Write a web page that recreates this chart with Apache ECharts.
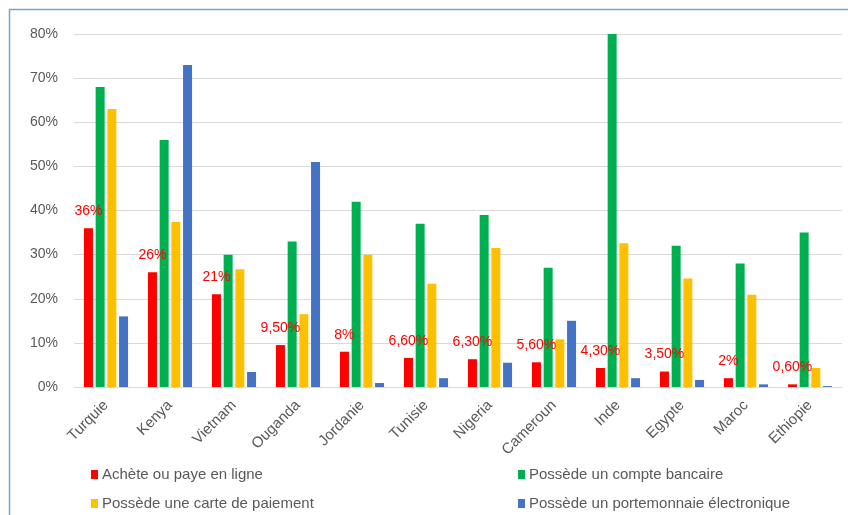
<!DOCTYPE html>
<html>
<head>
<meta charset="utf-8">
<script src="https://cdn.jsdelivr.net/npm/echarts@6/dist/echarts.min.js"></script>
<style>
  html, body { margin: 0; padding: 0; background: #fff; }
  #chart { width: 848px; height: 515px; }
</style>
</head>
<body>
<div id="chart"></div>
<script>
const pays = ['Turquie', 'Kenya', 'Vietnam', 'Ouganda', 'Jordanie', 'Tunisie', 'Nigeria', 'Cameroun', 'Inde', 'Egypte', 'Maroc', 'Ethiopie'];
const achete = [36, 26, 21, 9.5, 8, 6.6, 6.3, 5.6, 4.3, 3.5, 2, 0.6];
const compte = [68, 56, 30, 33, 42, 37, 39, 27, 80, 32, 28, 35];
const carte = [63, 37.4, 26.7, 16.5, 30, 23.4, 31.5, 10.8, 32.6, 24.6, 20.9, 4.3];
const portemonnaie = [16, 73, 3.4, 51, 0.9, 2, 5.5, 15, 2, 1.6, 0.6, 0.2];
const yTicks = [0, 10, 20, 30, 40, 50, 60, 70, 80];
const seriesNames = ['Achète ou paye en ligne', 'Possède un compte bancaire', 'Possède une carte de paiement', 'Possède un portemonnaie électronique'];

const font = '"Liberation Sans", Arial, sans-serif';
const grey = '#595959';

// format "à la française" : 36% ou 9,50%
function fmtPct(v) {
    if (Number.isInteger(v)) return v + '%';
    return v.toFixed(2).replace('.', ',') + '%';
}

// une légende par entrée, grille 2 x 2 comme dans Excel
function legendItem(name, left, top) {
    return {
        left: left, top: top, padding: 0,
        itemWidth: 7, itemHeight: 9, icon: 'rect',
        textStyle: {color: grey, fontSize: 15, fontFamily: font, padding: [0, 0, 0, -1]},
        data: [name]
    };
}

let chart = echarts.init(document.getElementById('chart'));
chart.setOption({
    animation: false,
    textStyle: {fontFamily: font},
    color: ['#ff0000', '#00b050', '#ffc000', '#4472c4'],
    graphic: [{
        type: 'rect',
        shape: {x: 9.5, y: 9.5, width: 900, height: 600},
        style: {fill: 'none', stroke: '#7aa3d0', lineWidth: 1.5}
    }],
    grid: {left: 74, right: 6, top: 34, bottom: 128},
    legend: [
        legendItem(seriesNames[0], 91, 467),
        legendItem(seriesNames[1], 518, 467),
        legendItem(seriesNames[2], 91, 496),
        legendItem(seriesNames[3], 518, 496)
    ],
    xAxis: {
        type: 'category',
        data: pays,
        axisTick: {show: false},
        axisLine: {lineStyle: {color: '#d9d9d9'}},
        axisLabel: {rotate: 45, color: grey, fontSize: 15, margin: 16, interval: 0}
    },
    yAxis: {
        type: 'value',
        min: yTicks[0],
        max: yTicks[yTicks.length - 1],
        interval: 10,
        axisLabel: {color: grey, fontSize: 14, margin: 16, formatter: '{value}%'},
        splitLine: {lineStyle: {color: '#d9d9d9'}}
    },
    series: [
        {
            name: seriesNames[0], type: 'bar', data: achete,
            barWidth: 9, barGap: '30%',
            label: {
                show: true, position: 'top', distance: 10,
                color: '#ff0000', fontSize: 14,
                formatter: p => fmtPct(p.value)
            }
        },
        {name: seriesNames[1], type: 'bar', data: compte, barWidth: 9, barGap: '30%'},
        {name: seriesNames[2], type: 'bar', data: carte, barWidth: 9, barGap: '30%'},
        {name: seriesNames[3], type: 'bar', data: portemonnaie, barWidth: 9, barGap: '30%'}
    ]
});
</script>
</body>
</html>
